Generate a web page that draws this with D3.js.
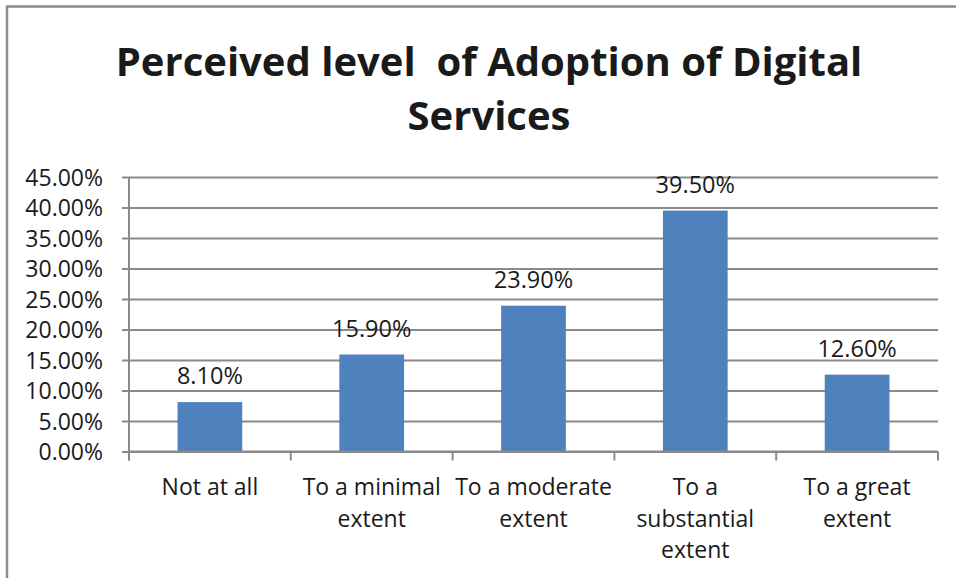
<!DOCTYPE html>
<html>
<head>
<meta charset="utf-8">
<script src="https://cdn.jsdelivr.net/npm/d3@7"></script>
<style>
  html, body { margin: 0; padding: 0; background: #fff; }
  svg { display: block; }
  text { font-family: "Open Sans", "Liberation Sans", sans-serif; fill: #1a1a1a; }
</style>
</head>
<body>
<svg id="chart" width="956" height="578"></svg>
<script>
// Chart data
const titleLines = ["Perceived level  of Adoption of Digital", "Services"];
const categories = ["Not at all", "To a minimal extent", "To a moderate extent", "To a substantial extent", "To a great extent"];
const categoryLines = [["Not at all"], ["To a minimal", "extent"], ["To a moderate", "extent"], ["To a", "substantial", "extent"], ["To a great", "extent"]];
const values = [8.10, 15.90, 23.90, 39.50, 12.60];
const yTicks = [0, 5, 10, 15, 20, 25, 30, 35, 40, 45];

const svg = d3.select("#chart");
const W = 956, H = 578;
const plot = { left: 129, right: 938, top: 177, bottom: 451.5 };
const gridColor = "#8a8a8a";
const barColor = "#4f81bd";

// Outer chart border (runs off the right and bottom edges)
svg.append("rect")
  .attr("x", 7).attr("y", 6.5)
  .attr("width", W + 20).attr("height", H + 20)
  .attr("fill", "none")
  .attr("stroke", "#8c8c8c")
  .attr("stroke-width", 2.5);

// Title, sized to span its line width
const title = svg.append("g");
titleLines.forEach((t, i) => {
  title.append("text")
    .attr("x", 489)
    .attr("y", i === 0 ? 76 : 130)
    .attr("text-anchor", "middle")
    .attr("font-weight", "bold")
    .attr("font-size", 36)
    .style("white-space", "pre")
    .attr("xml:space", "preserve")
    .text(t);
});
{
  const first = title.select("text").node();
  const w = first.getComputedTextLength();
  const size = 36 * 747 / w;
  title.selectAll("text").attr("font-size", size);
}

// Scales
const y = d3.scaleLinear().domain([0, 45]).range([plot.bottom, plot.top]);
const xCat = d3.scaleBand().domain(categories).range([plot.left, plot.right]).padding(0);
const xBar = d3.scaleBand().domain(categories).range([plot.left, plot.right])
  .paddingInner(0.6).paddingOuter(0.3);

// Horizontal gridlines with left tick marks, via the y axis
const yAxis = d3.axisLeft(y)
  .tickValues(yTicks)
  .tickSize(-(plot.right - plot.left))
  .tickPadding(0)
  .tickFormat(d => d.toFixed(2) + "%");
const gy = svg.append("g").attr("transform", `translate(${plot.left},0)`).call(yAxis);
gy.select(".domain").remove();
gy.selectAll(".tick line")
  .attr("x1", -7)
  .attr("stroke", gridColor)
  .attr("stroke-width", 2);
gy.selectAll(".tick text")
  .attr("x", -26)
  .attr("dy", "0.36em")
  .attr("font-size", 23)
  .attr("fill", "#1a1a1a")
  .attr("font-family", "'Open Sans', sans-serif");

// Vertical axis line
svg.append("line")
  .attr("x1", plot.left).attr("x2", plot.left)
  .attr("y1", plot.top).attr("y2", plot.bottom + 9)
  .attr("stroke", gridColor).attr("stroke-width", 2);

// Bars
svg.append("g").selectAll("rect")
  .data(values)
  .join("rect")
  .attr("x", (d, i) => xBar(categories[i]))
  .attr("width", xBar.bandwidth())
  .attr("y", d => y(d))
  .attr("height", d => y(0) - y(d))
  .attr("fill", barColor);

// Bottom axis line and category boundary ticks
svg.append("line")
  .attr("x1", plot.left).attr("x2", plot.right)
  .attr("y1", y(0)).attr("y2", y(0))
  .attr("stroke", gridColor).attr("stroke-width", 2);
const bounds = categories.map(c => xCat(c)).concat([plot.right]);
svg.append("g").selectAll("line")
  .data(bounds)
  .join("line")
  .attr("x1", d => d).attr("x2", d => d)
  .attr("y1", y(0)).attr("y2", y(0) + 9)
  .attr("stroke", gridColor).attr("stroke-width", 2);

// Value labels above bars
svg.append("g").selectAll("text")
  .data(values)
  .join("text")
  .attr("x", (d, i) => xBar(categories[i]) + xBar.bandwidth() / 2)
  .attr("y", d => y(d) - 18)
  .attr("text-anchor", "middle")
  .attr("font-size", 23.5)
  .text(d => d.toFixed(2) + "%");

// Category labels, wrapped
const catG = svg.append("g");
categories.forEach((c, i) => {
  const cx = xCat(c) + xCat.bandwidth() / 2;
  const t = catG.append("text")
    .attr("x", cx)
    .attr("y", 495)
    .attr("text-anchor", "middle")
    .attr("font-size", 23);
  categoryLines[i].forEach((line, j) => {
    t.append("tspan")
      .attr("x", cx)
      .attr("dy", j === 0 ? 0 : 31.5)
      .text(line);
  });
});
</script>
</body>
</html>
